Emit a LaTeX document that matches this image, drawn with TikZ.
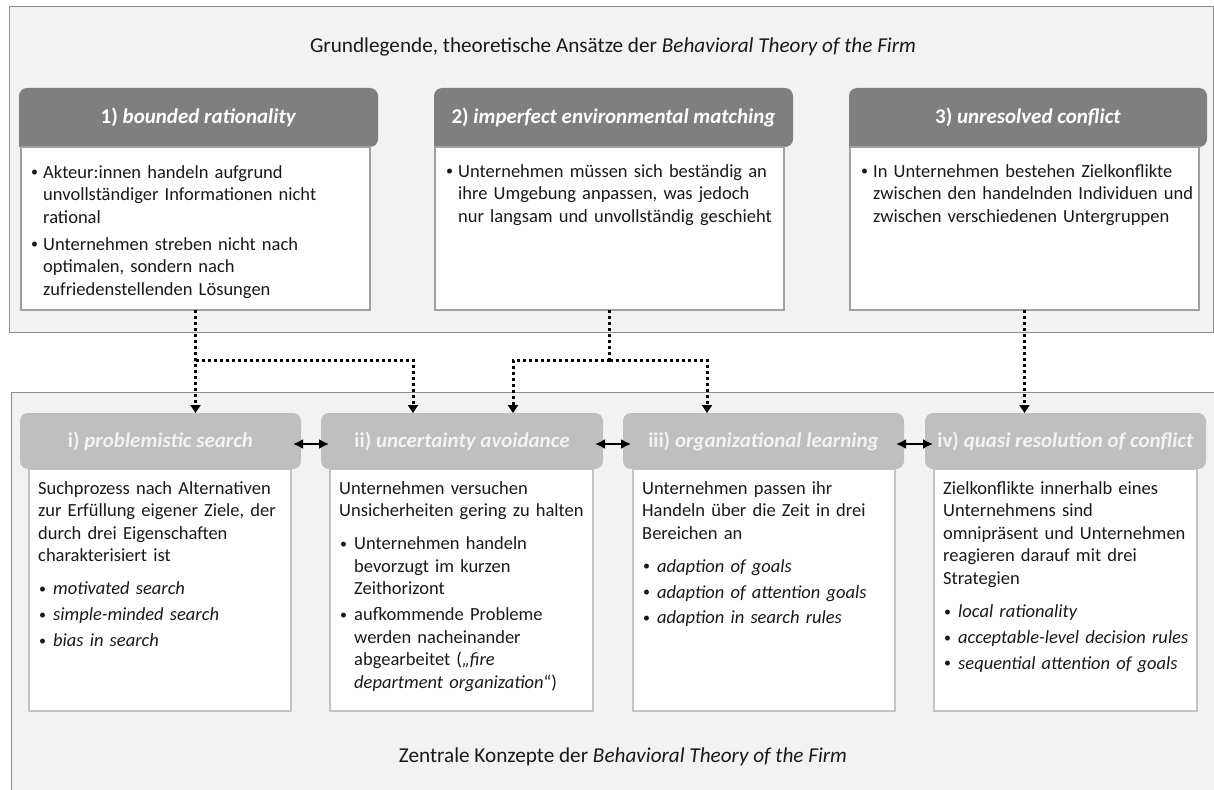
\documentclass[tikz,border=0pt]{standalone}
\usepackage{fontspec}
\setmainfont{Carlito}
\usetikzlibrary{arrows.meta,calc}
\definecolor{panelbg}{RGB}{242,242,242}
\definecolor{panelln}{RGB}{140,140,140}
\definecolor{hdrdark}{RGB}{127,127,127}
\definecolor{hdrlight}{RGB}{191,191,191}
\definecolor{bodyln}{RGB}{160,160,160}
\definecolor{bodylnl}{RGB}{195,195,195}
\definecolor{txtc}{RGB}{25,25,25}
\newcommand{\bodyfont}{\fontsize{18.5}{22.6}\selectfont}
\newcommand{\hdrfont}{\fontsize{21}{25}\selectfont\bfseries}
\newcommand{\mybul}{\raisebox{1.2pt}{\fontsize{14}{14}\selectfont\textbullet}}
\newcommand{\bpt}[1]{\noindent\hangindent=12pt\hangafter=1\makebox[12pt][l]{\mybul}#1\par}
\newcommand{\bpb}[1]{\noindent\hangindent=15pt\hangafter=1\makebox[15pt][l]{\hspace{1pt}\mybul}#1\par}
\begin{document}
\begin{tikzpicture}[x=1pt,y=-1pt,
  panelbox/.style={draw=panelln, fill=panelbg, line width=1pt, inner sep=0pt, outer sep=0pt, anchor=north west},
  tophead/.style={fill=hdrdark, rounded corners=8pt, inner sep=0pt, outer sep=0pt, anchor=north west, minimum height=59pt, text=white, font=\hdrfont, text height=14pt, text depth=1.2pt},
  topbody/.style={draw=bodyln, fill=white, line width=2pt, inner sep=0pt, outer sep=0pt, anchor=north west, minimum width=349pt, minimum height=163pt},
  bothead/.style={fill=hdrlight, rounded corners=8pt, inner sep=0pt, outer sep=0pt, anchor=north west, minimum height=56pt, text=panelbg, font=\hdrfont, text height=15pt, text depth=1.2pt},
  botbody/.style={draw=bodylnl, fill=white, line width=2pt, inner sep=0pt, outer sep=0pt, anchor=north west, minimum height=242pt},
  txt/.style={anchor=north west, inner sep=0pt, text width=345pt, align=left, font=\bodyfont, text=txtc},
  ttl/.style={inner sep=0pt, font=\fontsize{21.2}{25}\selectfont, text=txtc},
  dotc/.style={line width=3pt, dash pattern=on 3pt off 3pt, -{Triangle[length=8pt,width=10pt]}},
  dotl/.style={line width=3pt, dash pattern=on 3pt off 3pt},
  dbl/.style={line width=2pt, {Latex[length=10pt,width=10pt]}-{Latex[length=10pt,width=10pt]}, shorten <=-8pt, shorten >=-8pt}
]
\useasboundingbox (0,0) rectangle (1214,789);
\fill[white] (0,0) rectangle (1214,789);

% panels
\node[panelbox, minimum width=1204pt, minimum height=325pt] (ptop) at (9,7) {};
\fill[panelbg] (11,392) rectangle (1220,795);
\draw[panelln, line width=1pt] (11,795) -- (11,392) -- (1220,392);
\node[ttl] (t1) at (613,47) {Grundlegende, theoretische Ansätze der \textit{Behavioral Theory of the Firm}};
\node[ttl] (t2) at (623,757) {Zentrale Konzepte der \textit{Behavioral Theory of the Firm}};

% top boxes
\node[tophead, minimum width=359pt] (h1) at (19,88) {1) \textit{bounded rationality}};
\node[tophead, minimum width=359pt] (h2) at (434,88) {2) \textit{imperfect environmental matching}};
\node[tophead, minimum width=358pt] (h3) at (849,88) {3) \textit{unresolved conflict}};
\foreach \h in {h1,h2,h3} {\fill[hdrdark] (\h.south west) rectangle ++(12,-12);}
\node[topbody] (b1) at (21,147) {};
\node[topbody] (b2) at (435,147) {};
\node[topbody] (b3) at (850,147) {};

\node[txt] (x1) at (31,165) {\setlength{\parskip}{4.2pt}%
\bpt{Akteur:innen handeln aufgrund\newline unvollständiger Informationen nicht\newline rational}%
\bpt{Unternehmen streben nicht nach\newline optimalen, sondern nach\newline zufriedenstellenden Lösungen}};
\node[txt] (x2) at (446,164) {\setlength{\parskip}{4.2pt}%
\bpt{Unternehmen müssen sich beständig an\newline ihre Umgebung anpassen, was jedoch\newline nur langsam und unvollständig geschieht}};
\node[txt] (x3) at (861,164) {\setlength{\parskip}{4.2pt}%
\bpt{In Unternehmen bestehen Zielkonflikte\newline zwischen den handelnden Individuen und\newline zwischen verschiedenen Untergruppen}};

% bottom boxes
\node[botbody, minimum width=262pt] (bi) at (29,469) {};
\node[botbody, minimum width=263pt] (bii) at (330,469) {};
\node[botbody, minimum width=262pt] (biii) at (633,469) {};
\node[botbody, minimum width=263pt] (biv) at (934,469) {};
\node[bothead, minimum width=281pt] (hi) at (20,413) {i) \textit{problemistic search}};
\node[bothead, minimum width=282pt] (hii) at (321,413) {ii) \textit{uncertainty avoidance}};
\node[bothead, minimum width=281pt] (hiii) at (623,413) {iii) \textit{organizational learning}};
\node[bothead, minimum width=281pt] (hiv) at (925,413) {iv) \textit{quasi resolution of conflict}};

\node[txt] (xi) at (38,481) {\setlength{\parskip}{3.3pt}%
\noindent Suchprozess nach Alternativen\newline zur Erfüllung eigener Ziele, der\newline durch drei Eigenschaften\newline charakterisiert ist\par\vspace{7pt}%
\bpb{\textit{motivated search}}%
\bpb{\textit{simple-minded search}}%
\bpb{\textit{bias in search}}};
\node[txt] (xii) at (339,481) {\setlength{\parskip}{3.3pt}%
\noindent Unternehmen versuchen\newline Unsicherheiten gering zu halten\par\vspace{7pt}%
\bpb{Unternehmen handeln\newline bevorzugt im kurzen\newline Zeithorizont}%
\bpb{aufkommende Probleme\newline werden nacheinander\newline abgearbeitet (\textit{„fire}\newline \textit{department organization}“)}};
\node[txt] (xiii) at (642,481) {\setlength{\parskip}{3.3pt}%
\noindent Unternehmen passen ihr\newline Handeln über die Zeit in drei\newline Bereichen an\par\vspace{7pt}%
\bpb{\textit{adaption of goals}}%
\bpb{\textit{adaption of attention goals}}%
\bpb{\textit{adaption in search rules}}};
\node[txt] (xiv) at (943,481) {\setlength{\parskip}{3.3pt}%
\noindent Zielkonflikte innerhalb eines\newline Unternehmens sind\newline omnipräsent und Unternehmen\newline reagieren darauf mit drei\newline Strategien\par\vspace{7pt}%
\bpb{\textit{local rationality}}%
\bpb{\textit{acceptable-level decision rules}}%
\bpb{\textit{sequential attention of goals}}};

% connectors
\coordinate (j1) at (b1.south |- 0,360);
\coordinate (j2) at (b2.south |- 0,360);
\coordinate (eii1) at ($(hii.north west)+(92,0)$);
\coordinate (eii2) at ($(hii.north west)+(192,0)$);
\coordinate (eiii) at ($(hiii.north west)+(84,0)$);
\draw[dotc] (b1.south) -- (b1.south |- hi.north);
\draw[dotc] (j1) -| (eii1);
\draw[dotl] (b2.south) -- (j2);
\draw[dotc] (j2) -| (eii2);
\draw[dotc] (j2) -| (eiii);
\draw[dotc] (b3.south) -- (b3.south |- hiv.north);

\draw[dbl] ([yshift=-3pt]hi.east) -- ([yshift=-3pt]hii.west);
\draw[dbl] ([yshift=-3pt]hii.east) -- ([yshift=-3pt]hiii.west);
\draw[dbl] ([yshift=-3pt]hiii.east) -- ([yshift=-3pt]hiv.west);
\end{tikzpicture}
\end{document}
